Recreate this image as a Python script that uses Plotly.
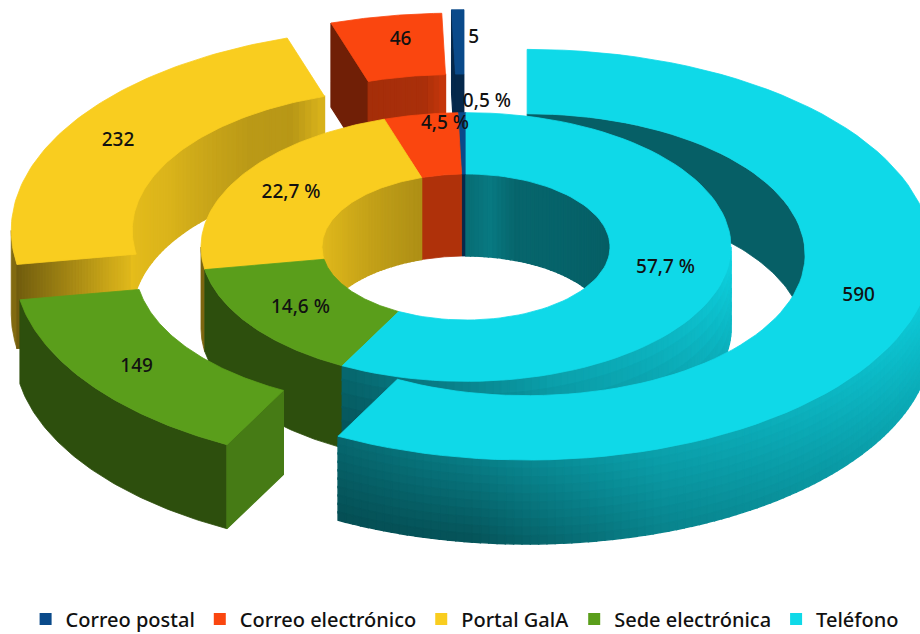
import math
import plotly.graph_objects as go

# ---- data ----
categories = ["Correo postal", "Correo electrónico", "Portal GalA", "Sede electrónica", "Teléfono"]
values = [5, 46, 232, 149, 590]
percent_labels = ["0,5 %", "4,5 %", "22,7 %", "14,6 %", "57,7 %"]
colors = ["#0A4A8A", "#FA460F", "#F9CD1F", "#5A9E1B", "#0FD9E8"]

# ---- projection settings ----
W, H = 920, 634
CX_IN, CY_IN = 466, 247
CX_OUT, CY_OUT = 465, 247
K = 0.507
R_IN = (144, 265)
R_OUT = (278, 405)
R_OUT_LEFT = (278, 399)
DEPTH_IN, DEPTH_OUT = 82, 84
EXPLODE = 64
# label nudges (pixels) for the two thin slices
out_nudge = {0: (15, -4), 1: (5, -5)}
in_nudge = {0: (24, -41), 1: (14, -21), 4: (1, -4)}

total = sum(values)
spans = {}
end = 360.0
for i, v in enumerate(values):
    a = v / total * 360
    spans[i] = (end - a, end)
    end -= a

fig = go.Figure()


def shade(col, f):
    r, g, b = int(col[1:3], 16), int(col[3:5], 16), int(col[5:7], 16)
    return "rgb(%d,%d,%d)" % (min(255, r * f), min(255, g * f), min(255, b * f))


def pt(c, r, t, dz=0):
    rad = math.radians(t)
    return c[0] + r * math.sin(rad), c[1] - r * K * math.cos(rad) + dz


def poly(points, color, lw=0.8):
    xs = [p[0] for p in points] + [points[0][0]]
    ys = [p[1] for p in points] + [points[0][1]]
    fig.add_trace(go.Scatter(x=xs, y=ys, mode="lines", fill="toself", fillcolor=color,
                             line=dict(color=color, width=lw), hoverinfo="skip", showlegend=False))


def arc(c, r, a0, a1, n=80, dz=0):
    return [pt(c, r, a0 + (a1 - a0) * i / n, dz) for i in range(n + 1)]


def top(c, radii, a0, a1, col):
    poly(arc(c, radii[1], a0, a1) + arc(c, radii[0], a1, a0), col)


def lerp_table(tbl, x):
    if x <= tbl[0][0]:
        return tbl[0][1]
    for (x0, y0), (x1, y1) in zip(tbl, tbl[1:]):
        if x <= x1:
            return y0 + (y1 - y0) * (x - x0) / (x1 - x0)
    return tbl[-1][1]


def flat_wall(c, r, a0, a1, depth, col, f):
    if a1 > a0:
        poly(arc(c, r, a0, a1) + arc(c, r, a1, a0, dz=depth), shade(col, f))


def wall(c, r, a0, a1, depth, col, ftop, fbot=None, n=40, m=1):
    """Curved side wall, split in cells for the shading (painted left to right, overlapping)."""
    fbot = fbot or ftop
    for j in range(m):
        z0, z1 = depth * j / m, depth * (j + 1) / m
        if j < m - 1:
            z1 += 1
        v = (j + 0.5) / m
        for i in range(n):
            t0 = a0 + (a1 - a0) * i / n
            t1 = a0 + (a1 - a0) * (i + 1) / n
            tm = (t0 + t1) / 2
            f = lerp_table(ftop, tm) * (1 - v) + lerp_table(fbot, tm) * v
            poly([pt(c, r, t0, z0), pt(c, r, t1, z0), pt(c, r, t1, z1), pt(c, r, t0, z1)], shade(col, f), lw=1.4)


def cap(c, radii, t, depth, col, f0, f1, n=1):
    for i in range(n):
        r0 = radii[1] + (radii[0] - radii[1]) * i / n
        r1 = radii[1] + (radii[0] - radii[1]) * (i + 1) / n
        f = f0 + (f1 - f0) * (i + 0.5) / n
        poly([pt(c, r0, t), pt(c, r1, t), pt(c, r1, t, depth), pt(c, r0, t, depth)], shade(col, f), lw=1.2)


def center_out(i):
    a0, a1 = spans[i]
    m = math.radians((a0 + a1) / 2)
    return CX_OUT + EXPLODE * math.sin(m), CY_OUT - EXPLODE * 0.5 * math.cos(m)


PHONE_TOP = [(90, 1.0), (109, .92), (161, .75), (188, .58), (210, .47)]
PHONE_BOT = [(90, .85), (109, .78), (161, .6), (188, .38), (210, .36)]
PORTAL_IN = [(260, .95), (300, .88), (325, .75), (335, .74), (342, .88)]
PORTAL_RING = [(260, .95), (300, .86), (342, .7)]

c_post, c_elec, c_port, c_sede, c_tele = [center_out(i) for i in range(5)]
in_c = (CX_IN, CY_IN)

# -- outer ring, back slices
a0, a1 = spans[0]
cap(c_post, R_OUT, a0, DEPTH_OUT, colors[0], .55, .55)
flat_wall(c_post, R_OUT[0], a0, a1, DEPTH_OUT, colors[0], .55)
top(c_post, R_OUT, a0, a1, colors[0])

a0, a1 = spans[1]
cap(c_elec, R_OUT_LEFT, a0, DEPTH_OUT, colors[1], .45, .45)
wall(c_elec, R_OUT_LEFT[0], a0, a1, DEPTH_OUT, colors[1], [(342, .66), (354, .68), (358.2, .8)], n=14)
top(c_elec, R_OUT_LEFT, a0, a1, colors[1])

a0, a1 = spans[2]
flat_wall(c_port, R_OUT_LEFT[1], a0, 270, DEPTH_OUT, colors[2], .52)
cap(c_port, R_OUT_LEFT, a0, DEPTH_OUT, colors[2], .45, .92, n=40)
wall(c_port, R_OUT_LEFT[0], a0, a1, DEPTH_OUT, colors[2], PORTAL_IN, n=60)
top(c_port, R_OUT_LEFT, a0, a1, colors[2])

# -- back inner wall of the phone slice
a0, a1 = spans[4]
flat_wall(c_tele, R_OUT[0], a0, 90, DEPTH_OUT, colors[4], .44)

# -- inner ring
flat_wall(in_c, R_IN[0], *spans[0], DEPTH_IN, colors[0], .55)
flat_wall(in_c, R_IN[0], *spans[1], DEPTH_IN, colors[1], .7)
wall(in_c, R_IN[0], *spans[2], DEPTH_IN, colors[2], PORTAL_RING, n=50)
a0, a1 = spans[4]
wall(in_c, R_IN[0], a0, 90, DEPTH_IN, colors[4], [(0, .5), (10, .56), (20, .47), (90, .43)], n=50)
flat_wall(in_c, R_IN[1], spans[2][0], 270, DEPTH_IN, colors[2], .5)
flat_wall(in_c, R_IN[1], spans[3][0], spans[3][1], DEPTH_IN, colors[3], .5)
wall(in_c, R_IN[1], 90, a1, DEPTH_IN, colors[4], PHONE_TOP, PHONE_BOT, n=70, m=6)
for i in range(5):
    top(in_c, R_IN, *spans[i], colors[i])

# -- outer ring, front slices
a0, a1 = spans[3]
flat_wall(c_sede, R_OUT_LEFT[1], a0, a1, DEPTH_OUT, colors[3], .5)
cap(c_sede, R_OUT_LEFT, a0, DEPTH_OUT, colors[3], .78, .78)
top(c_sede, R_OUT_LEFT, a0, a1, colors[3])

a0, a1 = spans[4]
wall(c_tele, R_OUT[1], 90, a1, DEPTH_OUT, colors[4], PHONE_TOP, PHONE_BOT, n=100, m=10)
top(c_tele, R_OUT, a0, a1, colors[4])

# -- data labels, positioned from the slices' mid angles
lx, ly, lt = [], [], []
for i in range(5):
    m = sum(spans[i]) / 2
    x, y = pt(center_out(i), sum(R_OUT) / 2, m)
    dx, dy = out_nudge.get(i, (0, 0))
    lx.append(x + dx); ly.append(y + dy); lt.append(str(values[i]))
    x, y = pt(in_c, sum(R_IN) / 2, m)
    dx, dy = in_nudge.get(i, (0, 0))
    lx.append(x + dx); ly.append(y + dy); lt.append(percent_labels[i])
fig.add_trace(go.Scatter(x=lx, y=ly, text=lt, mode="text", textposition="middle center",
                         textfont=dict(family="Noto Sans", size=19, color="#111111", weight=500),
                         hoverinfo="skip", showlegend=False))

# -- legend
for name, col in zip(categories, colors):
    fig.add_trace(go.Scatter(x=[None], y=[None], mode="markers", name=name,
                             marker=dict(symbol="square", size=13, color=col)))

fig.update_layout(
    width=W, height=H, margin=dict(l=0, r=0, t=0, b=0, autoexpand=False),
    paper_bgcolor="white", plot_bgcolor="white",
    xaxis=dict(range=[0, W], visible=False, fixedrange=True),
    yaxis=dict(range=[H, 0], visible=False, fixedrange=True),
    legend=dict(orientation="h", x=0.505, xanchor="center", y=-0.007, yanchor="bottom",
                itemsizing="constant", itemwidth=30, traceorder="normal",
                font=dict(family="Noto Sans", size=20, color="#111111", weight=500), bgcolor="rgba(0,0,0,0)"),
)
fig.write_html("out.html", config={"displayModeBar": False},
               post_script="document.body.style.margin='0';document.body.style.overflow='hidden';")
